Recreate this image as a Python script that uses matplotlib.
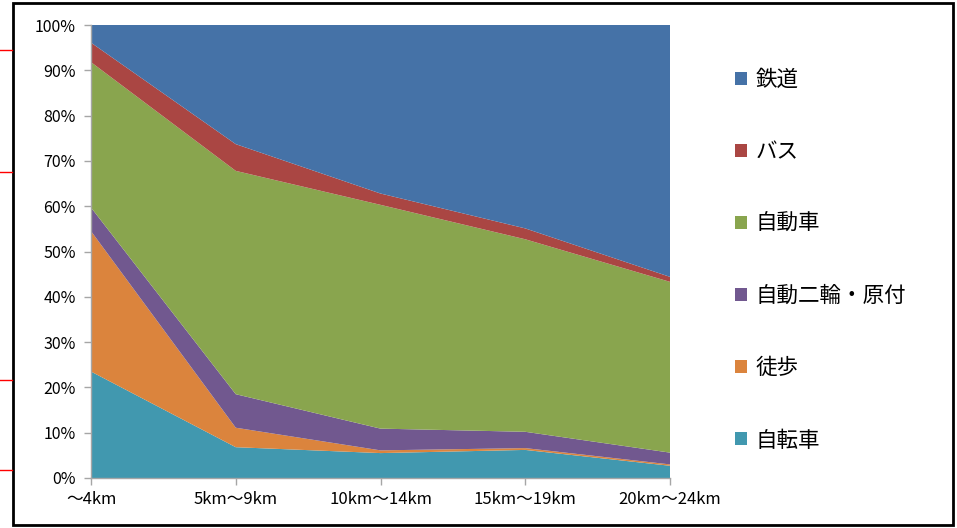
import matplotlib
matplotlib.use("Agg")
import matplotlib.pyplot as plt
from matplotlib.patches import Rectangle, Patch
from matplotlib.lines import Line2D

plt.rcParams['font.family'] = ['Noto Sans CJK JP', 'DejaVu Sans']

categories = ["〜4km", "5km〜9km", "10km〜14km", "15km〜19km", "20km〜24km"]
series_names = ["自転車", "徒歩", "自動二輪・原付", "自動車", "バス", "鉄道"]
bicycle = [23.5, 6.8, 5.5, 6.2, 2.7]
walking = [31.0, 4.3, 0.6, 0.4, 0.3]
moto = [5.2, 7.4, 4.8, 3.6, 2.6]
car = [32.1, 49.3, 49.4, 42.5, 37.7]
bus = [4.3, 5.9, 2.5, 2.4, 1.1]
rail = [3.9, 26.3, 37.2, 44.9, 55.6]
colors = ["#4198AF", "#DB843D", "#71588F", "#89A54E", "#AA4643", "#4572A7"]
yticks = [0, 10, 20, 30, 40, 50, 60, 70, 80, 90, 100]
ytick_labels = [f"{v}%" for v in yticks]

W, H = 957, 528
fig = plt.figure(figsize=(W / 100, H / 100), dpi=100)
ax = fig.add_axes([91 / W, (H - 478) / H, (670 - 91) / W, (478 - 25) / H])

x = list(range(len(categories)))
ax.stackplot(x, bicycle, walking, moto, car, bus, rail, colors=colors,
             linewidth=0)
ax.set_xlim(0, len(categories) - 1)
ax.set_ylim(0, 100)
ax.set_yticks(yticks)
ax.set_yticklabels(ytick_labels, fontsize=11.5)
ax.set_xticks(x)
ax.set_xticklabels(categories, fontsize=12)
for s in ["top", "right"]:
    ax.spines[s].set_visible(False)
for s in ["left", "bottom"]:
    ax.spines[s].set_color("#A6A6A6")
    ax.spines[s].set_linewidth(1)
ax.tick_params(axis="both", color="#A6A6A6", length=5, width=1, direction="out")
ax.tick_params(axis="y", pad=6)
ax.tick_params(axis="x", pad=4)

handles = [Patch(facecolor=colors[i], edgecolor="none") for i in range(5, -1, -1)]
labels = [series_names[i] for i in range(5, -1, -1)]
fig.legend(handles, labels, loc="upper left", bbox_to_anchor=(724 / W, 1 - 58 / H),
           frameon=False, fontsize=15.5, handlelength=0.55, handleheight=0.55,
           handletextpad=0.4, labelspacing=2.33, borderpad=0)

# outer frame
fig.patches.append(Rectangle((13 / W, 3 / H), (953 - 13) / W, (525 - 3) / H,
                             transform=fig.transFigure, fill=False,
                             edgecolor="black", linewidth=2))
# red marks at left margin
for yy in [50, 172, 380, 470]:
    fig.lines.append(Line2D([0, 12 / W], [1 - yy / H, 1 - yy / H],
                            transform=fig.transFigure, color="red", linewidth=1))

fig.savefig("out.png", dpi=100)
